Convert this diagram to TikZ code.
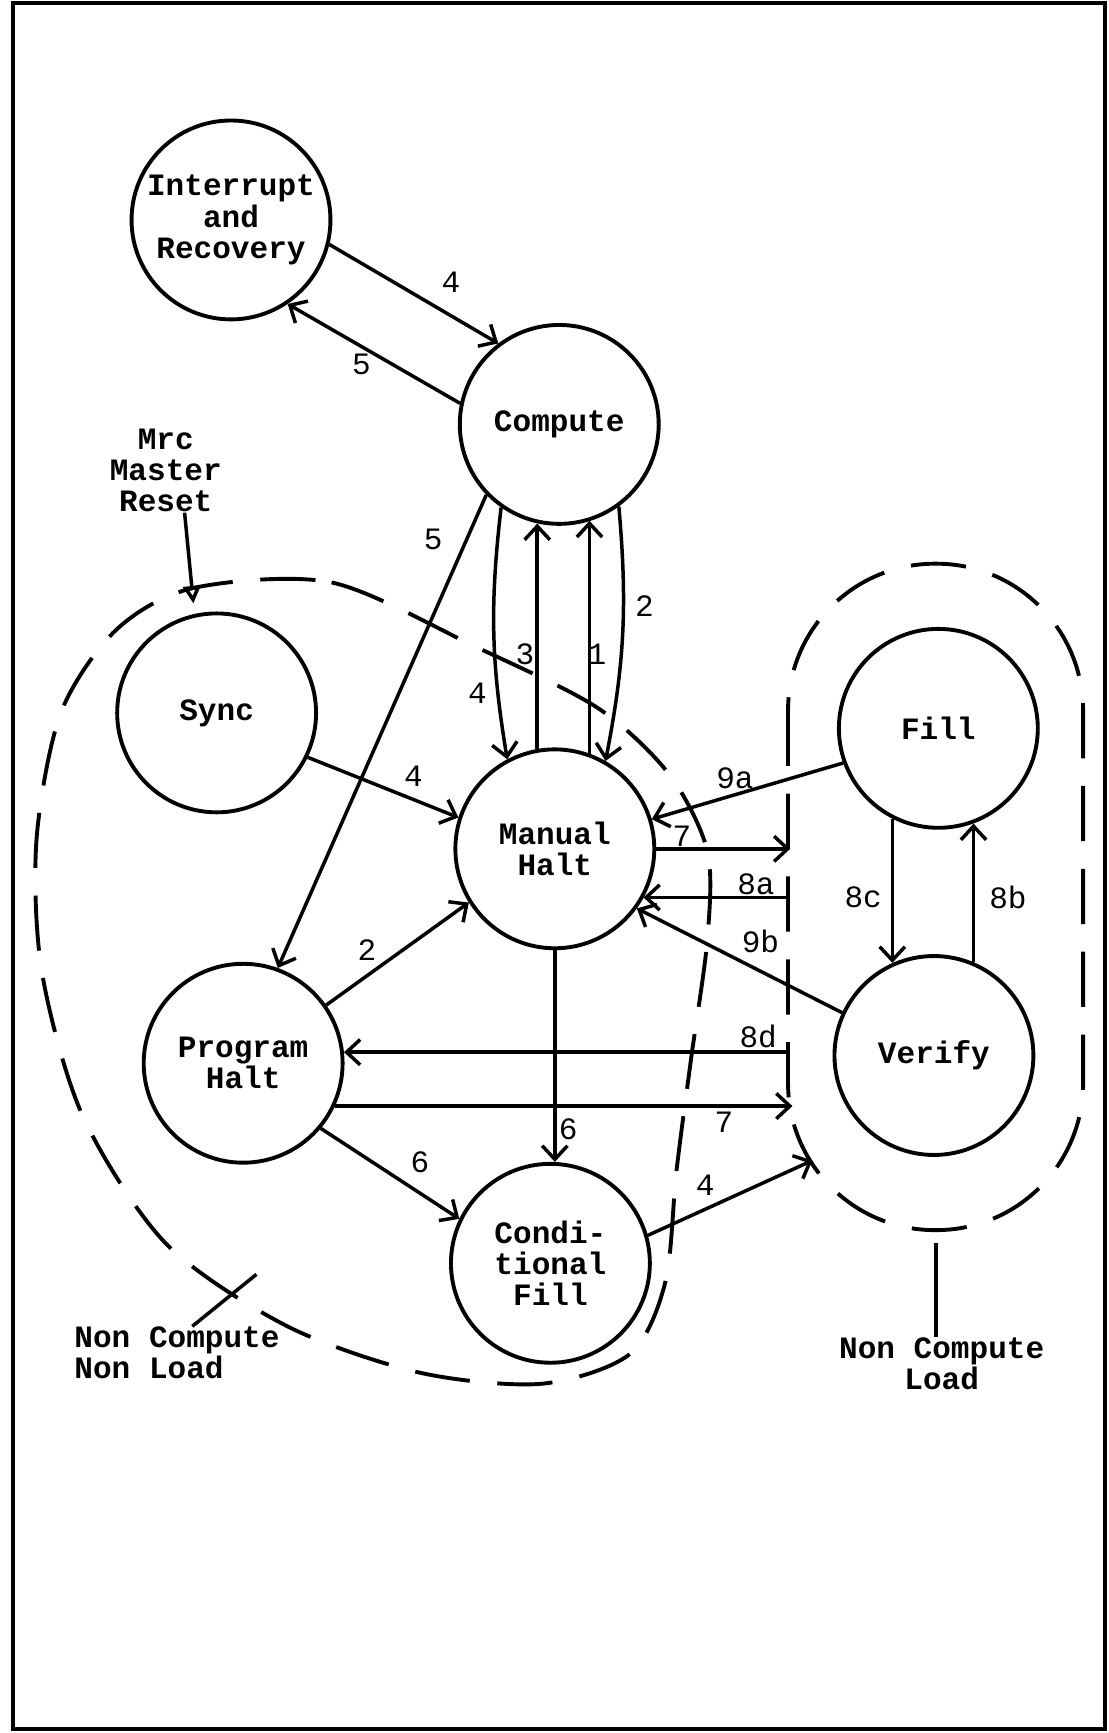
\documentclass[tikz,border=0pt]{standalone}
\usepackage{fontspec}
\setmonofont{Liberation Mono}
\usetikzlibrary{arrows.meta,calc}

\begin{document}
\begin{tikzpicture}[x=0.02cm,y=-0.02cm,
  state/.style={draw,circle,line width=2pt,minimum size=3.6cm,inner sep=0pt,align=center,font=\ttfamily\bfseries\fontsize{16}{16}\selectfont},
  txt/.style={align=center,inner sep=0pt,font=\ttfamily\bfseries\fontsize{16}{16}\selectfont},
  conn/.style={line width=1.8pt,-{Straight Barb[length=7pt,width=13pt]}},
  lbl/.style={font=\ttfamily\fontsize{16}{16}\selectfont},
  region/.style={line width=2pt,dash pattern=on 1cm off 0.5cm}]
\useasboundingbox (0,0) rectangle (1003,1568);
\draw[line width=2pt] (12,3) rectangle (1000,1564);

% states
\node[state] (intr) at (209,199) {Interrupt\\and\\Recovery};
\node[state] (comp) at (506,384) {Compute};
\node[state] (sync) at (196,645) {Sync};
\node[state] (man) at (502,768) {Manual\\Halt};
\node[state] (prog) at (220,962) {Program\\Halt};
\node[state] (cond) at (498,1143) {Condi-\\tional\\Fill};
\node[state] (fill) at (849,659) {Fill};
\node[state] (ver) at (845,955) {Verify};

% regions
\draw[region] plot[smooth cycle] coordinates {(175,532) (300,527) (430,585) (540,640) (605,700)
  (640,770) (640,850) (625,960) (612,1060) (602,1160) (570,1225) (490,1252) (380,1242)
  (260,1200) (150,1125) (75,1010) (38,880) (33,760) (55,645) (105,570)};
\draw[region,rounded corners=2.66cm] (713,510) rectangle (980,1113);
\coordinate (reset) at (175,546);
\coordinate (r7) at (715,768);
\coordinate (r8a) at (713,812);
\coordinate (r8d) at (711,952);
\coordinate (r7b) at (717,1000);
\coordinate (r4) at (735,1050);
\coordinate (lblob) at (232,1153);
\coordinate (rblob) at (847,1125);

% labels
\node[txt] (mrc) at (150,426) {Mrc\\Master\\Reset};
\node[txt,align=left,anchor=west] (ncnl) at (67,1224) {Non Compute\\Non Load};
\node[txt] (ncl) at (852,1234) {Non Compute\\Load};
\draw[line width=1.8pt,-{Triangle[open,length=9pt,width=9pt]}] ($(mrc.south)+(17,0)$) -- (reset);
\draw[line width=1.8pt] (ncnl.60) -- (lblob);
\draw[line width=1.8pt] (rblob) -- (rblob |- ncl.north);

% transitions
\draw[conn] (intr.-14) -- (comp.127) node[lbl] at (408,255) {4};
\draw[conn] (comp.168) -- (intr.304) node[lbl] at (327,330) {5};
\draw[conn] (comp.224) -- (prog.70) node[lbl] at (392,488) {5};
\draw[conn] (comp.235) to[bend right=8] (man.118) node[lbl] at (432,627) {4};
\draw[conn] (man.100) -- (man.100 |- comp.258) node[lbl] at (475,592) {3};
\draw[conn] (man.70) -- (man.70 |- comp.288) node[lbl] at (540,592) {1};
\draw[conn] (comp.306) to[bend left=8] (man.60) node[lbl] at (583,548) {2};
\draw[conn] (sync.334) -- (man.162) node[lbl] at (374,702) {4};
\draw[conn] (prog.35) -- (man.212) node[lbl] at (332,860) {2};
\draw[conn] (man.south) -- (man.south |- cond.north) node[lbl] at (514,1022) {6};
\draw[conn] (prog.320) -- (cond.154) node[lbl] at (380,1052) {6};
\draw[conn] (fill.200) -- (man.17) node[lbl] at (665,704) {9a};
\draw[conn] (ver.155) -- (man.324) node[lbl] at (688,852) {9b};
\draw[conn] (man.east) -- (r7) node[lbl] at (617,757) {7};
\draw[conn] (r8a) -- (r8a -| man.-29) node[lbl] at (684,800) {8a};
\draw[conn] (r8d) -- (r8d -| prog.6) node[lbl] at (686,938) {8d};
\draw[conn] (prog.-25) -- (prog.-25 -| r7b) node[lbl] at (655,1015) {7};
\draw[conn] (cond.16) -- (r4) node[lbl] at (638,1072) {4};
\draw[conn] (fill.243) -- (fill.243 |- ver.114) node[lbl] at (781,812) {8c};
\draw[conn] (ver.67) -- (ver.67 |- fill.290) node[lbl] at (912,812) {8b};
\end{tikzpicture}
\end{document}
